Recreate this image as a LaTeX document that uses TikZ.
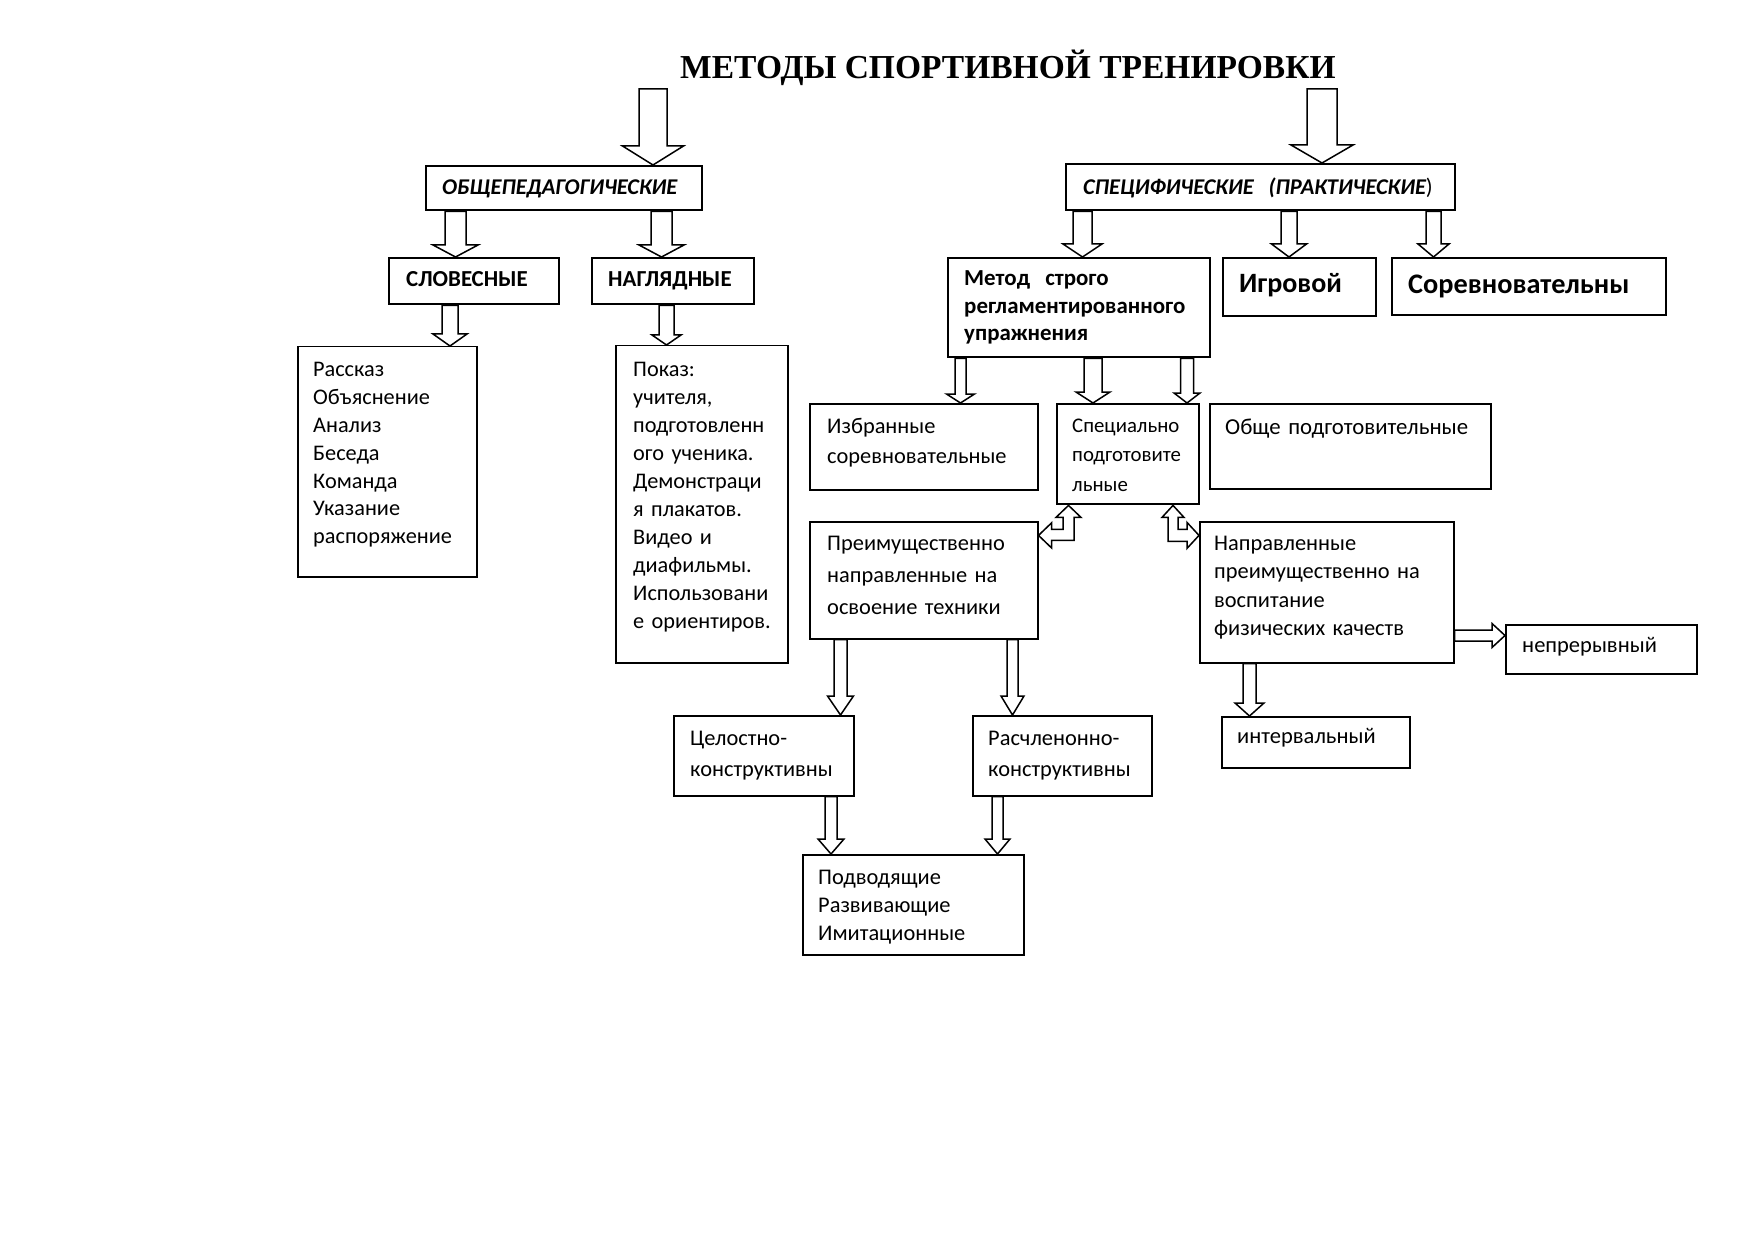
\documentclass[tikz,border=0pt]{standalone}
\usepackage{fontspec}
\setmainfont{Carlito}
\newfontfamily\titlefont{Liberation Serif}
\usetikzlibrary{calc}
\newcommand{\fs}[2]{\fontsize{#1}{#2}\selectfont}
\newcommand{\barrdown}[6]{\draw[barrow] let \p1=(#1), \p2=(#2) in
  ({#3pt-#4pt},\y1) -- ({#3pt+#4pt},\y1) -- ({#3pt+#4pt},{\y2+#6pt}) -- ({#3pt+#5pt},{\y2+#6pt})
  -- ({#3pt},\y2) -- ({#3pt-#5pt},{\y2+#6pt}) -- ({#3pt-#4pt},{\y2+#6pt}) -- cycle;}
\newcommand{\barrright}[6]{\draw[barrow] let \p1=(#1), \p2=(#2) in
  (\x1,{-#3pt+#4pt}) -- ({\x2-#6pt},{-#3pt+#4pt}) -- ({\x2-#6pt},{-#3pt+#5pt}) -- (\x2,{-#3pt})
  -- ({\x2-#6pt},{-#3pt-#5pt}) -- ({\x2-#6pt},{-#3pt-#4pt}) -- (\x1,{-#3pt-#4pt}) -- cycle;}
\tikzset{
  box/.style={draw, line width=2.4pt, inner sep=0pt, anchor=north west},
  tbox/.style={draw, line width=1.5pt, inner sep=0pt, anchor=north west},
  txt/.style={inner sep=0pt, anchor=base west, align=left, text width=400pt},
  barrow/.style={draw, line width=1.5pt, line join=miter},
}
\begin{document}
\begin{tikzpicture}[x=1pt,y=-1pt]
\useasboundingbox (0,0) rectangle (1754,1241);
% title
\node[anchor=base west, inner sep=0pt, font=\titlefont\bfseries\fs{33.5}{40}] (title) at (680,79)
  {МЕТОДЫ СПОРТИВНОЙ ТРЕНИРОВКИ};
\coordinate (ta1) at (653,89);
\coordinate (ta2) at (1322,89);
% boxes
\node[box, minimum width=276pt, minimum height=44pt] (obsh) at (425,165) {};
\node[box, minimum width=389pt, minimum height=46pt] (spec) at (1065,163) {};
\node[box, minimum width=170pt, minimum height=46pt] (slov) at (388,257) {};
\node[box, minimum width=162pt, minimum height=46pt] (nagl) at (591,257) {};
\node[tbox, minimum width=179pt, minimum height=230pt] (rass) at (297,346) {};
\node[tbox, minimum width=172pt, minimum height=317pt] (pokaz) at (615,345) {};
\node[box, minimum width=262pt, minimum height=99pt] (metod) at (947,257) {};
\node[box, minimum width=153pt, minimum height=58pt] (igr) at (1222,257) {};
\node[box, minimum width=274pt, minimum height=57pt] (sorev) at (1391,257) {};
\node[box, minimum width=228pt, minimum height=86pt] (izbr) at (809,403) {};
\node[box, minimum width=142pt, minimum height=100pt] (specpod) at (1056,403) {};
\node[box, minimum width=281pt, minimum height=85pt] (obshe) at (1209,403) {};
\node[tbox, minimum width=228pt, minimum height=117pt] (preim) at (809,521) {};
\node[tbox, minimum width=254pt, minimum height=141pt] (napr) at (1199,521) {};
\node[box, minimum width=191pt, minimum height=49pt] (nepr) at (1505,624) {};
\node[box, minimum width=188pt, minimum height=51pt] (inter) at (1221,716) {};
\node[tbox, minimum width=180pt, minimum height=80pt] (celost) at (673,715) {};
\node[tbox, minimum width=179pt, minimum height=80pt] (rasch) at (972,715) {};
\node[tbox, minimum width=221pt, minimum height=100pt] (podv) at (802,854) {};
% texts
\node[txt, font=\bfseries\itshape\fs{22.5}{27}] (obsh-t) at (442,195) {ОБЩЕПЕДАГОГИЧЕСКИЕ};
\node[txt, font=\fs{22.5}{27}] (spec-t) at (1083,195) {{\bfseries\itshape СПЕЦИФИЧЕСКИЕ\ \ (ПРАКТИЧЕСКИЕ})};
\node[txt, font=\bfseries\fs{22.9}{27}] (slov-t) at (406,287) {СЛОВЕСНЫЕ};
\node[txt, font=\bfseries\fs{22.9}{27}] (nagl-t) at (608,287) {НАГЛЯДНЫЕ};
\node[txt, font=\fs{22.3}{27.8}] (rass-t) at (313,377) {Рассказ\\Объяснение\\Анализ\\Беседа\\Команда\\Указание\\распоряжение};
\node[txt, font=\fs{22.3}{27.9}] (pokaz-t) at (633,377) {Показ:\\учителя,\\подготовленн\\ого ученика.\\Демонстраци\\я плакатов.\\Видео и\\диафильмы.\\Использовани\\е ориентиров.};
\node[txt, font=\bfseries\fs{22.9}{27.5}] (metod-t) at (964,286) {Метод\ \ строго\\регламентированного\\упражнения};
\node[txt, font=\bfseries\fs{28}{30}] (igr-t) at (1239,293) {Игровой};
\node[txt, font=\bfseries\fs{28.3}{30}] (sorev-t) at (1408,294) {Соревновательны};
\node[txt, font=\fs{22.4}{30}] (izbr-t) at (827,433) {Избранные\\соревновательные};
\node[txt, font=\fs{20.8}{29.5}] (specpod-t) at (1072,432) {Специально\\подготовите\\льные};
\node[txt, font=\fs{22.8}{30}] (obshe-t) at (1225,434) {Обще подготовительные};
\node[txt, font=\fs{22.4}{32}] (preim-t) at (827,550) {Преимущественно\\направленные на\\освоение техники};
\node[txt, font=\fs{22.4}{28.5}] (napr-t) at (1214,550) {Направленные\\преимущественно на\\воспитание\\физических качеств};
\node[txt, font=\fs{22.5}{30}] (nepr-t) at (1522,652) {непрерывный};
\node[txt, font=\fs{22.5}{30}] (inter-t) at (1237,743) {интервальный};
\node[txt, font=\fs{22.4}{31}] (celost-t) at (690,745) {Целостно-\\конструктивны};
\node[txt, font=\fs{22.4}{31}] (rasch-t) at (988,745) {Расчленонно-\\конструктивны};
\node[txt, font=\fs{22.4}{28}] (podv-t) at (818,884) {Подводящие\\Развивающие\\Имитационные};
% block arrows
\barrdown{ta1}{obsh.north}{653}{14}{30.5}{19}
\barrdown{ta2}{spec.north}{1322}{15}{31}{18}
\barrdown{obsh.south}{slov.north}{455.5}{10.5}{22.5}{12}
\barrdown{obsh.south}{nagl.north}{661.5}{10.5}{22.5}{12}
\barrdown{spec.south}{metod.north}{1082.5}{9.5}{19.5}{13}
\barrdown{spec.south}{igr.north}{1289}{8}{17.5}{13}
\barrdown{spec.south}{sorev.north}{1433.5}{7.5}{15.5}{13}
\barrdown{slov.south}{rass.north}{450}{8}{17}{12}
\barrdown{nagl.south}{pokaz.north}{666.5}{7.5}{14.5}{10}
\barrdown{metod.south}{izbr.north}{960.5}{5.5}{14}{9}
\barrdown{metod.south}{specpod.north}{1093}{9}{17}{11}
\barrdown{metod.south}{specpod.north}{1187}{6.5}{13}{10}
\barrdown{preim.south}{celost.north}{840.5}{6.5}{13}{19}
\barrdown{preim.south}{rasch.north}{1012.5}{5.5}{11.5}{19}
\barrdown{celost.south}{podv.north}{831}{6}{13}{15}
\barrdown{rasch.south}{podv.north}{997.5}{5.5}{12.5}{15}
\barrdown{napr.south}{inter.north}{1249.5}{6.5}{14.5}{13}
\barrright{napr.east}{nepr.west}{635.5}{5.5}{12}{13}
% bent double arrows
\draw[barrow] let \p1=(specpod.south), \p2=(preim.east) in
  (1068.5pt,\y1) -- (1081pt,{\y1-12pt}) -- (1074pt,{\y1-12pt}) -- (1074pt,{\y1-35pt})
  -- ({\x2+13pt},{\y1-35pt}) -- ({\x2+13pt},{\y1-42.5pt}) -- (\x2,{\y1-30pt})
  -- ({\x2+13pt},{\y1-17.5pt}) -- ({\x2+13pt},{\y1-24pt}) -- (1063pt,{\y1-24pt})
  -- (1063pt,{\y1-12pt}) -- (1056pt,{\y1-12pt}) -- cycle;
\draw[barrow] let \p1=(specpod.south), \p2=(napr.west) in
  (1173pt,\y1) -- (1184pt,{\y1-12pt}) -- (1178pt,{\y1-12pt}) -- (1178pt,{\y1-24pt})
  -- ({\x2-12pt},{\y1-24pt}) -- ({\x2-12pt},{\y1-17pt}) -- (\x2,{\y1-30pt})
  -- ({\x2-12pt},{\y1-43pt}) -- ({\x2-12pt},{\y1-36pt}) -- (1168pt,{\y1-36pt})
  -- (1168pt,{\y1-12pt}) -- (1162pt,{\y1-12pt}) -- cycle;
\end{tikzpicture}
\end{document}
